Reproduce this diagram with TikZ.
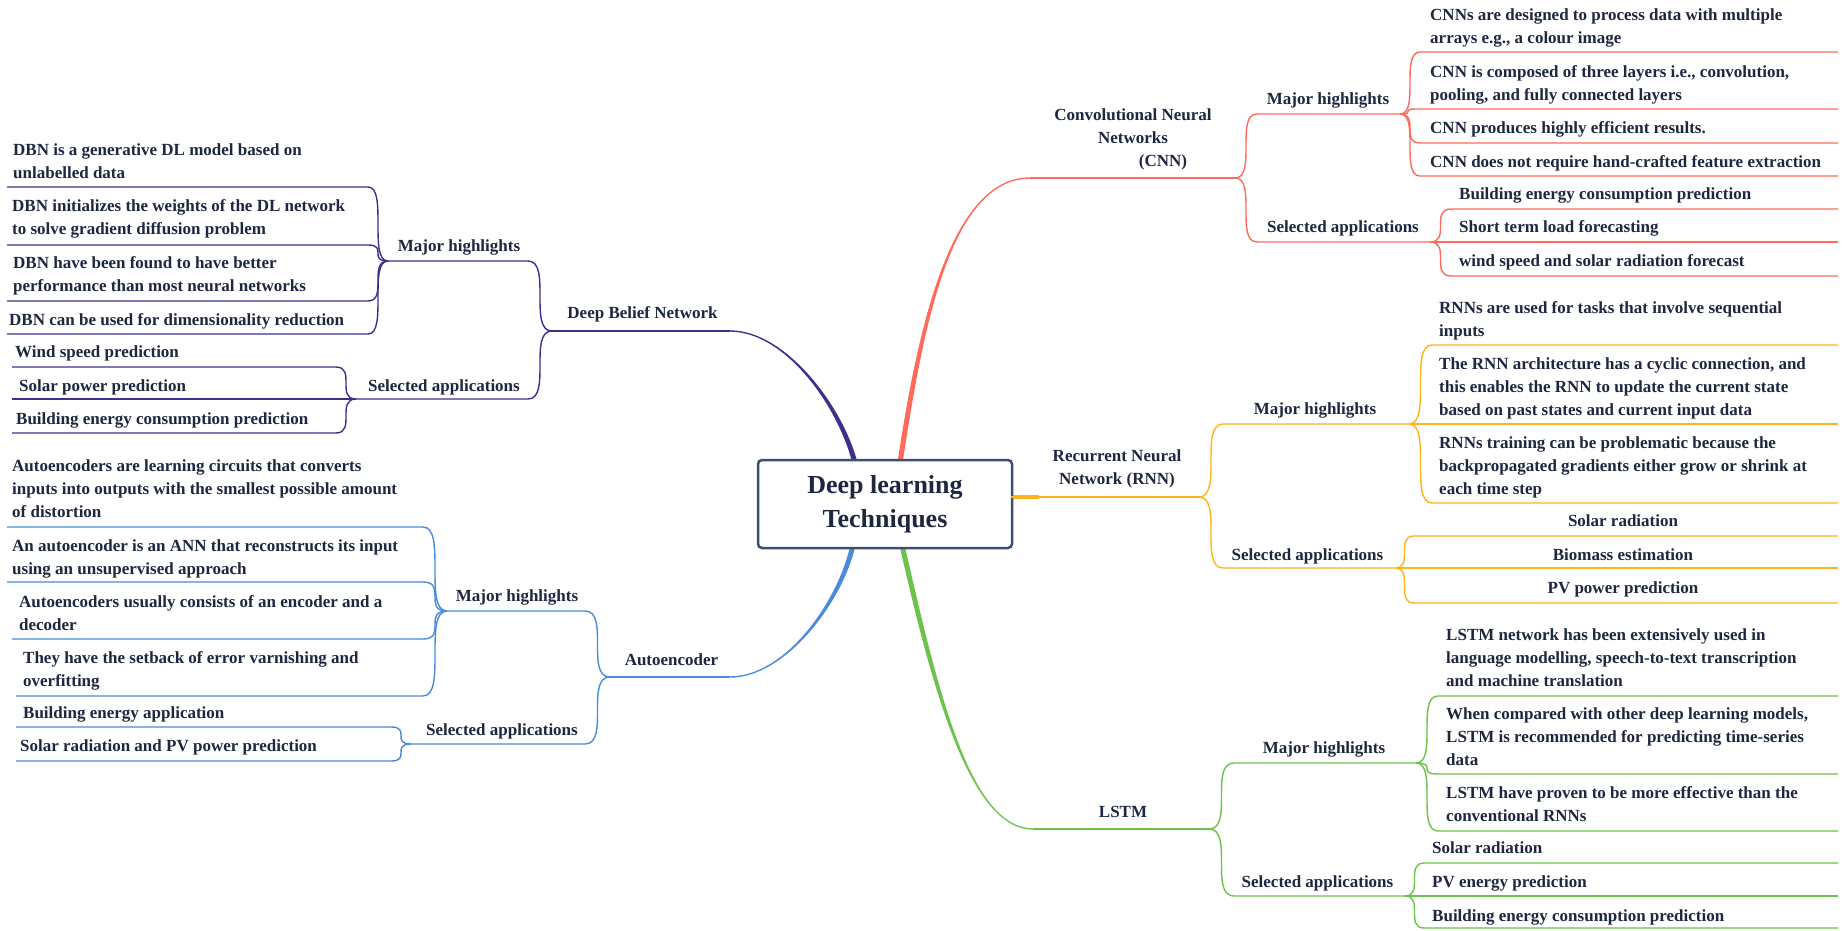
\documentclass[tikz,border=0pt]{standalone}
\usepackage{fontspec}
\setmainfont{Liberation Serif}
\usetikzlibrary{calc}
\definecolor{cnnc}{HTML}{FF6B5B}
\definecolor{dbnc}{HTML}{3C2F8E}
\definecolor{rnnc}{HTML}{FFB31A}
\definecolor{aec}{HTML}{4A8BDA}
\definecolor{lstmc}{HTML}{6DC24B}
\definecolor{boxc}{HTML}{3D4F72}
\definecolor{txt}{HTML}{1E2740}
\newcommand\mleaf[4]{\draw[#1] (#2) .. controls (#2 -| #3) and (#3 -| #2) .. (#3) -- (#3 -| #4);}
\newcommand\mtaper[7]{\fill[#1] ($(#2)+(#6)$) .. controls ($(#3)+(#6)$) and ($(#4)+(#7)$) .. ($(#5)+(#7)$) -- ($(#5)-(#7)$) .. controls ($(#4)-(#7)$) and ($(#3)-(#6)$) .. ($(#2)-(#6)$) -- cycle;}
\begin{document}
\begin{tikzpicture}[x=1bp,y=-1bp,
  conn/.style={line width=1.4bp},
  cnnl/.style={conn,draw=cnnc},
  dbnl/.style={conn,draw=dbnc},
  rnnl/.style={conn,draw=rnnc},
  ael/.style={conn,draw=aec},
  lstml/.style={conn,draw=lstmc},
  lbl/.style={inner sep=0pt,text=txt,font=\fontsize{17bp}{23bp}\selectfont\bfseries,align=left,anchor=west},
  lblc/.style={lbl,align=center,anchor=center}]
\fill[white] (0,0) rectangle (1842,930);
\useasboundingbox (0,0) rectangle (1842,930);

% ---------- coordinates ----------
\coordinate (redge) at (1838,0);
\coordinate (ledge) at (7,0);
\coordinate (ledgeb) at (12,0);
\coordinate (ledgec) at (16,0);
% CNN
\coordinate (cnnA) at (900,463);
\coordinate (cnnP) at (920,330);
\coordinate (cnnQ) at (950,178);
\coordinate (cnnB) at (1030,178);
\coordinate (jcnn) at (1235,178);
\coordinate (cnnmh) at (1257,114);
\coordinate (jcnnmh) at (1400,114);
\coordinate (cnnsa) at (1257,242);
\coordinate (jcnnsa) at (1430,242);
\coordinate (cm1) at (1420,52);
\coordinate (cm2) at (1416,109);
\coordinate (cm3) at (1420,143);
\coordinate (cm4) at (1420,176);
\coordinate (cs1) at (1451,209);
\coordinate (cs2) at (1451,242);
\coordinate (cs3) at (1451,276);
% RNN
\coordinate (rnnA) at (1011,497);
\coordinate (rnnT) at (1039,497);
\coordinate (jrnn) at (1199,497);
\coordinate (rnnmh) at (1223,424);
\coordinate (jrnnmh) at (1409,424);
\coordinate (rnnsa) at (1223,568);
\coordinate (jrnnsa) at (1395,568);
\coordinate (rm1) at (1432,345);
\coordinate (rm2) at (1432,424);
\coordinate (rm3) at (1432,503);
\coordinate (rs1) at (1414,536);
\coordinate (rs2) at (1414,568);
\coordinate (rs3) at (1414,603);
% LSTM
\coordinate (lstmA) at (902,545);
\coordinate (lstmP) at (935,690);
\coordinate (lstmQ) at (970,829);
\coordinate (lstmB) at (1033,829);
\coordinate (jlstm) at (1209,829);
\coordinate (lstmmh) at (1234,763);
\coordinate (jlstmmh) at (1416,763);
\coordinate (lstmsa) at (1234,896);
\coordinate (jlstmsa) at (1405,896);
\coordinate (lm1) at (1438,696);
\coordinate (lm2) at (1438,774);
\coordinate (lm3) at (1438,831);
\coordinate (ls1) at (1424,863);
\coordinate (ls2) at (1424,896);
\coordinate (ls3) at (1424,928);
% DBN
\coordinate (dbnA) at (855,463);
\coordinate (dbnP) at (840,405);
\coordinate (dbnQ) at (785,331);
\coordinate (dbnB) at (730,331);
\coordinate (jdbn) at (552,331);
\coordinate (dbnmh) at (528,261);
\coordinate (jdbnmh) at (388,261);
\coordinate (dbnsa) at (528,399);
\coordinate (jdbnsa) at (356,399);
\coordinate (dm1) at (368,187);
\coordinate (dm2) at (368,245);
\coordinate (dm3) at (368,301);
\coordinate (dm4) at (368,334);
\coordinate (ds1) at (336,367);
\coordinate (ds2) at (336,399);
\coordinate (ds3) at (336,433);
% Autoencoder
\coordinate (aeA) at (853,545);
\coordinate (aeP) at (840,603);
\coordinate (aeQ) at (785,677);
\coordinate (aeB) at (730,677);
\coordinate (jae) at (610,677);
\coordinate (aemh) at (585,611);
\coordinate (jaemh) at (447,611);
\coordinate (aesa) at (585,744);
\coordinate (jaesa) at (411,744);
\coordinate (am1) at (423,527);
\coordinate (am2) at (423,582);
\coordinate (am3) at (423,639);
\coordinate (am4) at (423,696);
\coordinate (as1) at (391,727);
\coordinate (as2) at (391,761);

% ---------- main tapered branches ----------
\mtaper{cnnc}{cnnA}{cnnP}{cnnQ}{cnnB}{-2.6,0}{0,-0.7}
\mtaper{dbnc}{dbnA}{dbnP}{dbnQ}{dbnB}{-2.6,0}{0,0.7}
\mtaper{aec}{aeA}{aeP}{aeQ}{aeB}{2.6,0}{0,0.7}
\mtaper{lstmc}{lstmA}{lstmP}{lstmQ}{lstmB}{2.6,0}{0,-0.7}
\draw[rnnc,line width=3.6bp] (rnnA) -- (rnnT);

% ---------- root ----------
\node[draw=boxc,line width=2.5bp,fill=white,rounded corners=4bp,minimum width=254bp,minimum height=88bp,inner sep=0pt,text=txt,font=\fontsize{26bp}{34bp}\selectfont\bfseries,align=center] (root) at (885,504) {\strut Deep learning\\Techniques\strut};

% ---------- CNN ----------
\draw[cnnl] (cnnB) -- (jcnn);
\mleaf{cnnl}{jcnn}{cnnmh}{jcnnmh}
\mleaf{cnnl}{jcnn}{cnnsa}{jcnnsa}
\mleaf{cnnl}{jcnnmh}{cm1}{redge}
\mleaf{cnnl}{jcnnmh}{cm2}{redge}
\mleaf{cnnl}{jcnnmh}{cm3}{redge}
\mleaf{cnnl}{jcnnmh}{cm4}{redge}
\mleaf{cnnl}{jcnnsa}{cs1}{redge}
\mleaf{cnnl}{jcnnsa}{cs2}{redge}
\mleaf{cnnl}{jcnnsa}{cs3}{redge}
\node[lblc] (cnnt) at (1133,139) {\strut Convolutional Neural\\Networks\\\hspace*{60bp}(CNN)\strut};
\node[lblc] (cnnmht) at (1328,100) {\strut Major highlights\strut};
\node[lblc] (cnnsat) at (1343,228) {\strut Selected applications\strut};
\node[lbl] (cnnm1t) at (1430,27.5) {\strut CNNs are designed to process data with multiple\\arrays e.g., a colour image\strut};
\node[lbl] (cnnm2t) at (1430,84) {\strut CNN is composed of three layers i.e., convolution,\\pooling, and fully connected layers\strut};
\node[lbl] (cnnm3t) at (1430,129) {\strut CNN produces highly efficient results.\strut};
\node[lbl] (cnnm4t) at (1430,163) {\strut CNN does not require hand-crafted feature extraction\strut};
\node[lbl] (cnns1t) at (1459,195) {\strut Building energy consumption prediction\strut};
\node[lbl] (cnns2t) at (1459,228) {\strut Short term load forecasting\strut};
\node[lbl] (cnns3t) at (1459,262) {\strut wind speed and solar radiation forecast\strut};

% ---------- RNN ----------
\draw[rnnl] (rnnA) -- (jrnn);
\mleaf{rnnl}{jrnn}{rnnmh}{jrnnmh}
\mleaf{rnnl}{jrnn}{rnnsa}{jrnnsa}
\mleaf{rnnl}{jrnnmh}{rm1}{redge}
\mleaf{rnnl}{jrnnmh}{rm2}{redge}
\mleaf{rnnl}{jrnnmh}{rm3}{redge}
\mleaf{rnnl}{jrnnsa}{rs1}{redge}
\mleaf{rnnl}{jrnnsa}{rs2}{redge}
\mleaf{rnnl}{jrnnsa}{rs3}{redge}
\node[lblc] (rnnt) at (1117,468.5) {\strut Recurrent Neural\\Network (RNN)\strut};
\node[lblc] (rnnmht) at (1315,410) {\strut Major highlights\strut};
\node[lblc] (rnnsat) at (1307.5,556) {\strut Selected applications\strut};
\node[lbl] (rnnm1t) at (1439,320) {\strut RNNs are used for tasks that involve sequential\\inputs\strut};
\node[lbl] (rnnm2t) at (1439,388) {\strut The RNN architecture has a cyclic connection, and\\this enables the RNN to update the current state\\based on past states and current input data\strut};
\node[lbl] (rnnm3t) at (1439,467) {\strut RNNs training can be problematic because the\\backpropagated gradients either grow or shrink at\\each time step\strut};
\node[lblc] (rnns1t) at (1623,522) {\strut Solar radiation\strut};
\node[lblc] (rnns2t) at (1623,556) {\strut Biomass estimation\strut};
\node[lblc] (rnns3t) at (1623,589) {\strut PV power prediction\strut};

% ---------- LSTM ----------
\draw[lstml] (lstmB) -- (jlstm);
\mleaf{lstml}{jlstm}{lstmmh}{jlstmmh}
\mleaf{lstml}{jlstm}{lstmsa}{jlstmsa}
\mleaf{lstml}{jlstmmh}{lm1}{redge}
\mleaf{lstml}{jlstmmh}{lm2}{redge}
\mleaf{lstml}{jlstmmh}{lm3}{redge}
\mleaf{lstml}{jlstmsa}{ls1}{redge}
\mleaf{lstml}{jlstmsa}{ls2}{redge}
\mleaf{lstml}{jlstmsa}{ls3}{redge}
\node[lblc] (lstmt) at (1123,813) {\strut LSTM\strut};
\node[lblc] (lstmmht) at (1324,749) {\strut Major highlights\strut};
\node[lblc] (lstmsat) at (1317.5,883) {\strut Selected applications\strut};
\node[lbl] (lstmm1t) at (1446,659) {\strut LSTM network has been extensively used in\\language modelling, speech-to-text transcription\\and machine translation\strut};
\node[lbl] (lstmm2t) at (1446,738) {\strut When compared with other deep learning models,\\LSTM is recommended for predicting time-series\\data\strut};
\node[lbl] (lstmm3t) at (1446,805.5) {\strut LSTM have proven to be more effective than the\\conventional RNNs\strut};
\node[lbl] (lstms1t) at (1432,849) {\strut Solar radiation\strut};
\node[lbl] (lstms2t) at (1432,883) {\strut PV energy prediction\strut};
\node[lbl] (lstms3t) at (1432,917) {\strut Building energy consumption prediction\strut};

% ---------- DBN ----------
\draw[dbnl] (dbnB) -- (jdbn);
\mleaf{dbnl}{jdbn}{dbnmh}{jdbnmh}
\mleaf{dbnl}{jdbn}{dbnsa}{jdbnsa}
\mleaf{dbnl}{jdbnmh}{dm1}{ledge}
\mleaf{dbnl}{jdbnmh}{dm2}{ledge}
\mleaf{dbnl}{jdbnmh}{dm3}{ledge}
\mleaf{dbnl}{jdbnmh}{dm4}{ledge}
\mleaf{dbnl}{jdbnsa}{ds1}{ledgeb}
\mleaf{dbnl}{jdbnsa}{ds2}{ledgeb}
\mleaf{dbnl}{jdbnsa}{ds3}{ledgeb}
\node[lblc] (dbnt) at (642.5,314) {\strut Deep Belief Network\strut};
\node[lblc] (dbnmht) at (459,247) {\strut Major highlights\strut};
\node[lblc] (dbnsat) at (444,387) {\strut Selected applications\strut};
\node[lbl] (dbnm1t) at (13,162.5) {\strut DBN is a generative DL model based on\\unlabelled data\strut};
\node[lbl] (dbnm2t) at (12,218.5) {\strut DBN initializes the weights of the DL network\\to solve gradient diffusion problem\strut};
\node[lbl] (dbnm3t) at (13,275.5) {\strut DBN have been found to have better\\performance than most neural networks\strut};
\node[lbl] (dbnm4t) at (9,321) {\strut DBN can be used for dimensionality reduction\strut};
\node[lbl] (dbns1t) at (15,353) {\strut Wind speed prediction\strut};
\node[lbl] (dbns2t) at (19,387) {\strut Solar power prediction\strut};
\node[lbl] (dbns3t) at (16,420) {\strut Building energy consumption prediction\strut};

% ---------- Autoencoder ----------
\draw[ael] (aeB) -- (jae);
\mleaf{ael}{jae}{aemh}{jaemh}
\mleaf{ael}{jae}{aesa}{jaesa}
\mleaf{ael}{jaemh}{am1}{ledge}
\mleaf{ael}{jaemh}{am2}{ledge}
\mleaf{ael}{jaemh}{am3}{ledgeb}
\mleaf{ael}{jaemh}{am4}{ledgec}
\mleaf{ael}{jaesa}{as1}{ledgec}
\mleaf{ael}{jaesa}{as2}{ledgec}
\node[lblc] (aet) at (671.5,661) {\strut Autoencoder\strut};
\node[lblc] (aemht) at (517,597) {\strut Major highlights\strut};
\node[lblc] (aesat) at (502,731) {\strut Selected applications\strut};
\node[lbl] (aem1t) at (12,489.5) {\strut Autoencoders are learning circuits that converts\\inputs into outputs with the smallest possible amount\\of distortion\strut};
\node[lbl] (aem2t) at (12,558) {\strut An autoencoder is an ANN that reconstructs its input\\using an unsupervised approach\strut};
\node[lbl] (aem3t) at (19,614) {\strut Autoencoders usually consists of an encoder and a\\decoder\strut};
\node[lbl] (aem4t) at (23,670.5) {\strut They have the setback of error varnishing and\\overfitting\strut};
\node[lbl] (aes1t) at (23,714) {\strut Building energy application\strut};
\node[lbl] (aes2t) at (20,747) {\strut Solar radiation and PV power prediction\strut};
\end{tikzpicture}
\end{document}
